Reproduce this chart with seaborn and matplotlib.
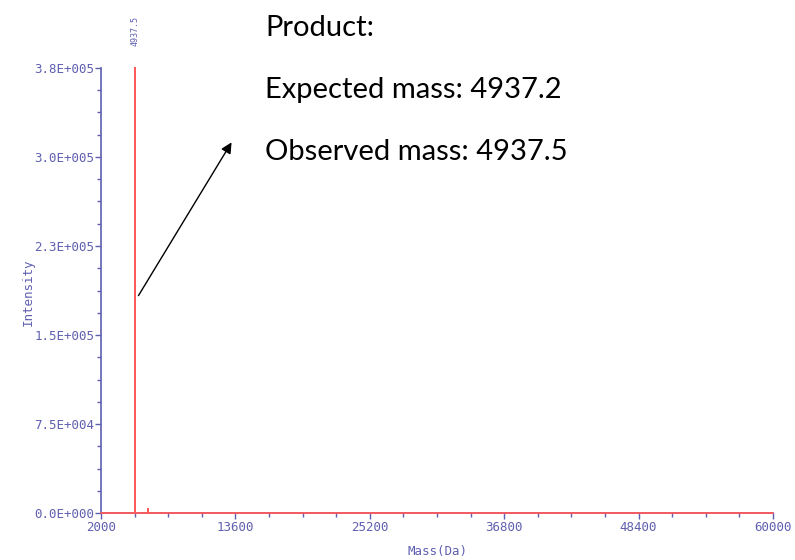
import matplotlib
matplotlib.use("Agg")
import matplotlib.pyplot as plt
import seaborn as sns
import pandas as pd
from matplotlib.ticker import AutoMinorLocator

# Data
mass = [2000, 4937.5, 4937.5, 4937.5, 6050, 6050, 6050, 60000]
intensity = [0, 0, 375000, 0, 0, 3500, 0, 0]
peak_label = "4937.5"
peak_mass = 4937.5
peak_int = 375000
xticks = [2000, 13600, 25200, 36800, 48400, 60000]
xticklabels = ["2000", "13600", "25200", "36800", "48400", "60000"]
yticks = [0, 75000, 150000, 225000, 300000, 375000]
yticklabels = ["0.0E+000", "7.5E+004", "1.5E+005", "2.3E+005", "3.0E+005", "3.8E+005"]
notes = ["Product:", "Expected mass: 4937.2", "Observed mass: 4937.5"]

sns.set_style("white")
axcol = "#5f5fb0"
mono = "DejaVu Sans Mono"

fig = plt.figure(figsize=(7.95, 5.60), dpi=100)
ax = fig.add_axes([101/795, 1-513/560, (773-101)/795, (513-68)/560])
df = pd.DataFrame({"Mass": mass, "Intensity": intensity})
sns.lineplot(data=df, x="Mass", y="Intensity", sort=False, estimator=None,
             color="#ff5a5a", linewidth=1.3, ax=ax, zorder=5, clip_on=False)
ax.set_xlim(2000, 60000)
ax.set_ylim(0, 375000)
ax.set_xticks(xticks)
ax.set_xticklabels(xticklabels)
ax.set_yticks(yticks)
ax.set_yticklabels(yticklabels)
ax.xaxis.set_minor_locator(AutoMinorLocator(4))
ax.yaxis.set_minor_locator(AutoMinorLocator(4))
for s in ["top", "right"]:
    ax.spines[s].set_visible(False)
for s in ["left", "bottom"]:
    ax.spines[s].set_color(axcol)
    ax.spines[s].set_linewidth(1.2)
ax.tick_params(axis="both", which="both", bottom=True, left=True, direction="out",
               color=axcol, width=1)
ax.tick_params(axis="both", which="major", length=4, labelcolor=axcol, labelsize=9)
ax.tick_params(axis="both", which="minor", length=3)
ax.tick_params(axis="x", which="major", pad=2)
ax.tick_params(axis="y", which="major", pad=1)
for lab in ax.get_xticklabels() + ax.get_yticklabels():
    lab.set_family(mono)
ax.set_xlabel("Mass(Da)", family=mono, color=axcol, fontsize=9, labelpad=8)
ax.set_ylabel("Intensity", family=mono, color=axcol, fontsize=9)
ax.yaxis.set_label_coords(-0.098, 0.497)
ax.text(peak_mass, peak_int * 1.05, peak_label, rotation=90, ha="center", va="bottom",
        family=mono, color=axcol, fontsize=6, clip_on=False)

ys = [28, 90, 152]
for t, y in zip(notes, ys):
    fig.text(265/795, 1-y/560, t, ha="left", va="center", family="Lato",
             fontsize=21, color="black")

ax.annotate("", xy=(233/795, 1-140/560), xycoords="figure fraction",
            xytext=(137/795, 1-298/560), textcoords="figure fraction",
            arrowprops=dict(arrowstyle="-|>", color="black", lw=1, mutation_scale=16))

fig.savefig("out.png", dpi=100)
